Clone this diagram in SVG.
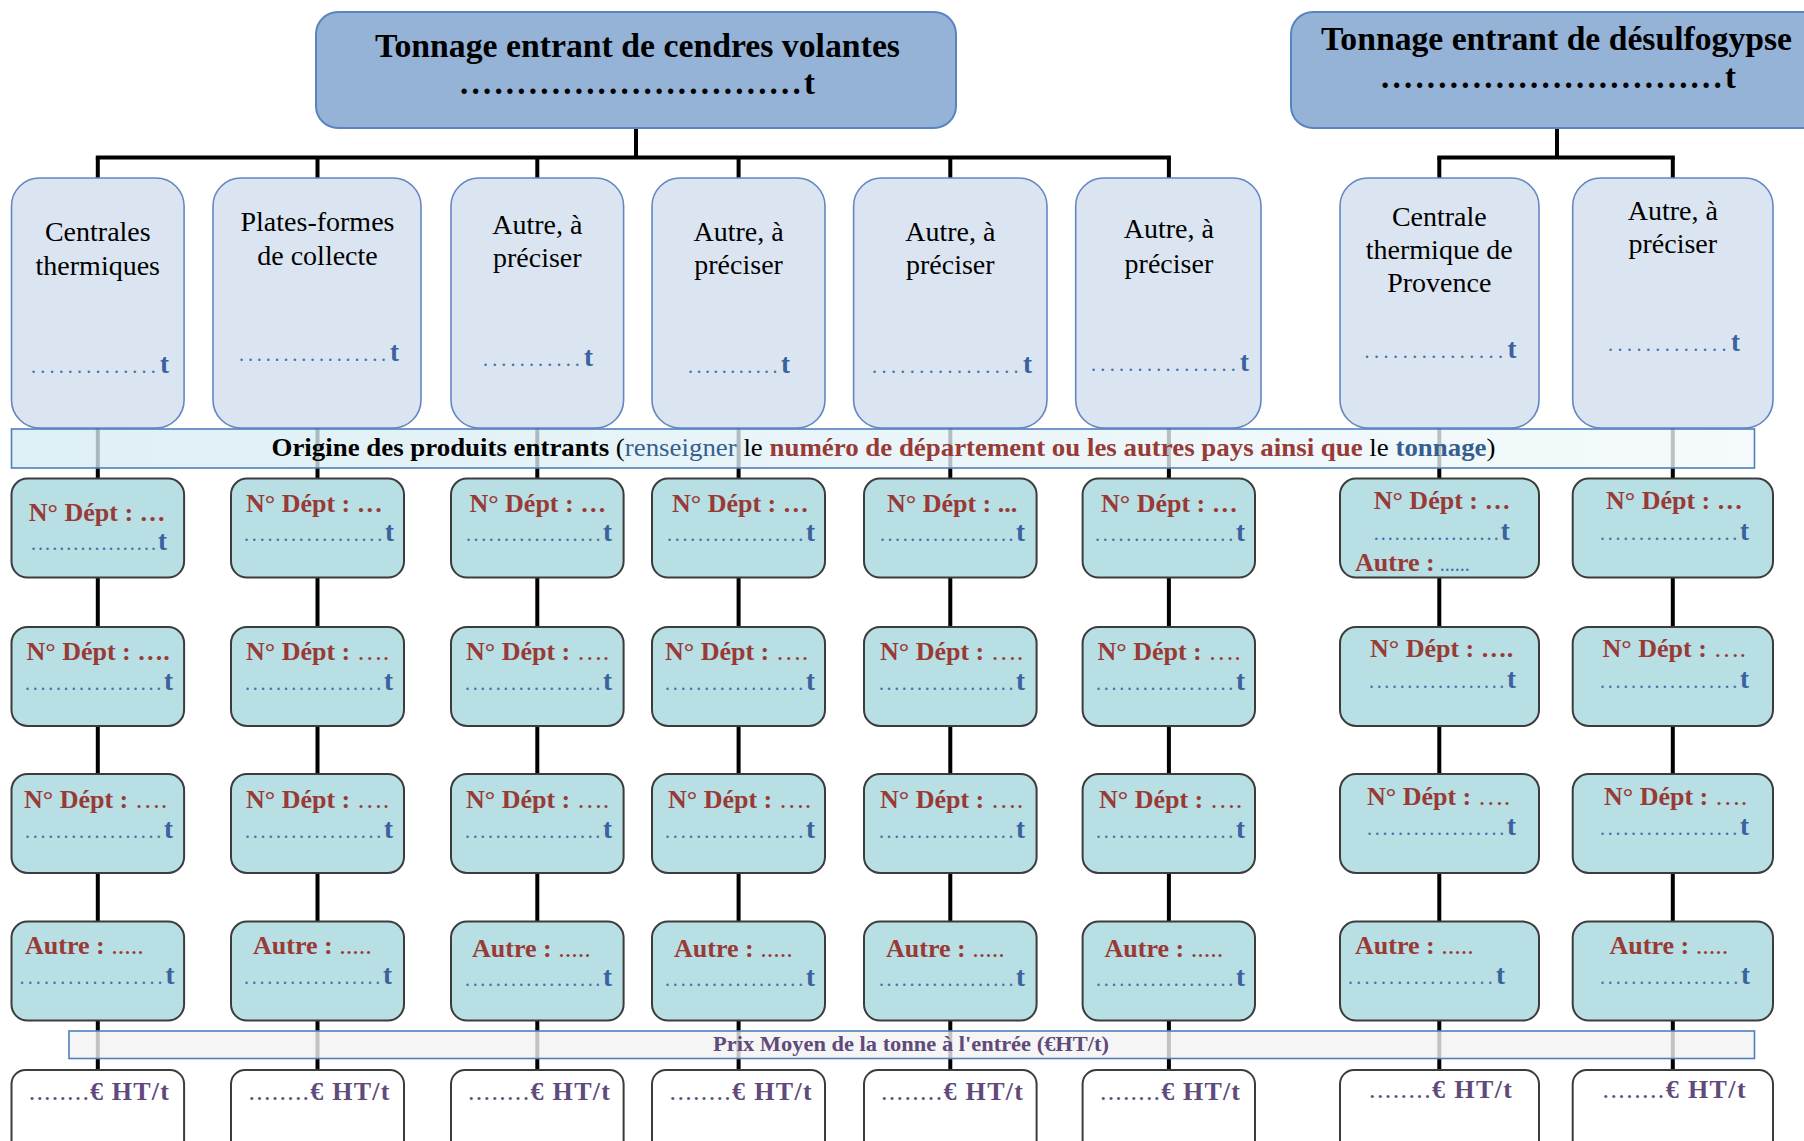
<svg xmlns="http://www.w3.org/2000/svg" width="1804" height="1141" viewBox="0 0 1804 1141" font-family="'Liberation Serif', 'Times New Roman', 'DejaVu Serif', serif">
<style>
  .top{fill:#95b3d7;stroke:#5a84c0;stroke-width:2}
  .src{fill:#dbe5f1;stroke:#6487c0;stroke-width:1.6}
  .dep{fill:#b8dfe3;stroke:#3c3c3c;stroke-width:2}
  .prix{fill:#ffffff;stroke:#3c3c3c;stroke-width:2}
  .band1{fill:url(#bandFill);fill-opacity:0.78;stroke:#4f7fbd;stroke-width:1.6}
  .band2{fill:#f2f2f2;fill-opacity:0.8;stroke:#4f7fbd;stroke-width:1.6}
  .wire{fill:none;stroke:#000;stroke-width:4}
  text, tspan{font-family:'Liberation Serif', 'Times New Roman', 'DejaVu Serif', serif}
  .ttl{font-size:33px;font-weight:bold;fill:#000}
  .lbl{font-size:28px;fill:#000;text-anchor:middle}
  .qty{font-size:20px;fill:#4470b0}
  .u{font-size:27px;font-weight:bold;fill:#3a62a0}
  .dept{font-size:26px;font-weight:bold;fill:#983a36}
  .thin{font-weight:normal}
  .eur{font-size:26px;fill:#604a7b}
  .b{font-weight:bold}
  .blk{fill:#000}
  .blu{fill:#365f91}
  .red{fill:#983a36}
</style>
<defs>
  <linearGradient id="bandFill" x1="0" y1="0" x2="1" y2="0">
    <stop offset="0" stop-color="#d5ebf2"/>
    <stop offset="1" stop-color="#f2f9fb"/>
  </linearGradient>
</defs>

<!-- connectors -->
<g id="connectors" class="wire">
  <path d="M636 128V157.6M1557 128V157.6"/>
  <path d="M97.8 157.6H1168.9M1439.3 157.6H1672.8" stroke-linecap="square"/>
  <path d="M97.8 157.6V178M317.5 157.6V178M537.3 157.6V178M738.6 157.6V178M950.3 157.6V178M1168.9 157.6V178M1439.3 157.6V178M1672.8 157.6V178"/>
  <path d="M97.8 428V1070M317.5 428V1070M537.3 428V1070M738.6 428V1070M950.3 428V1070M1168.9 428V1070M1439.3 428V1070M1672.8 428V1070"/>
</g>

<!-- headers -->
<g id="title-cendres">
  <rect class="top" x="316" y="12" width="640" height="116" rx="22"/>
  <text class="ttl" x="375" y="57" textLength="525" lengthAdjust="spacingAndGlyphs">Tonnage entrant de cendres volantes</text>
  <text class="ttl" x="460" y="94" textLength="355" lengthAdjust="spacing">..............................t</text>
</g>
<g id="title-desulfo">
  <rect class="top" x="1291" y="12" width="560" height="116" rx="22"/>
  <text class="ttl" x="1321" y="50" textLength="471" lengthAdjust="spacingAndGlyphs">Tonnage entrant de désulfogypse</text>
  <text class="ttl" x="1381" y="88" textLength="355" lengthAdjust="spacing">..............................t</text>
</g>

<!-- sources -->
<g id="src-1">
  <rect class="src" x="11.5" y="178" width="172.6" height="250" rx="28"/>
  <text class="lbl" x="97.8" y="240.5">Centrales</text>
  <text class="lbl" x="97.8" y="275">thermiques</text>
  <text class="qty" x="31" y="373" textLength="138" lengthAdjust="spacing">..............<tspan class="u">t</tspan></text>
</g>
<g id="src-2">
  <rect class="src" x="213" y="178" width="208" height="250" rx="28"/>
  <text class="lbl" x="317.5" y="231">Plates-formes</text>
  <text class="lbl" x="317.5" y="264.6">de collecte</text>
  <text class="qty" x="239" y="361" textLength="160" lengthAdjust="spacing">.................<tspan class="u">t</tspan></text>
</g>
<g id="src-3">
  <rect class="src" x="451" y="178" width="172.6" height="250" rx="28"/>
  <text class="lbl" x="537.3" y="233.5">Autre, à</text>
  <text class="lbl" x="537.3" y="267">préciser</text>
  <text class="qty" x="483" y="366" textLength="110" lengthAdjust="spacing">...........<tspan class="u">t</tspan></text>
</g>
<g id="src-4">
  <rect class="src" x="652" y="178" width="173" height="250" rx="28"/>
  <text class="lbl" x="738.6" y="240.5">Autre, à</text>
  <text class="lbl" x="738.6" y="274">préciser</text>
  <text class="qty" x="688" y="373" textLength="102" lengthAdjust="spacing">...........<tspan class="u">t</tspan></text>
</g>
<g id="src-5">
  <rect class="src" x="853.6" y="178" width="193.4" height="250" rx="28"/>
  <text class="lbl" x="950.3" y="240.5">Autre, à</text>
  <text class="lbl" x="950.3" y="274">préciser</text>
  <text class="qty" x="872" y="373" textLength="160" lengthAdjust="spacing">................<tspan class="u">t</tspan></text>
</g>
<g id="src-6">
  <rect class="src" x="1075.7" y="178" width="185.3" height="250" rx="28"/>
  <text class="lbl" x="1168.9" y="238">Autre, à</text>
  <text class="lbl" x="1168.9" y="272.7">préciser</text>
  <text class="qty" x="1091" y="370.5" textLength="158" lengthAdjust="spacing">................<tspan class="u">t</tspan></text>
</g>
<g id="src-7">
  <rect class="src" x="1340" y="178" width="199" height="250" rx="28"/>
  <text class="lbl" x="1439.3" y="225.5">Centrale</text>
  <text class="lbl" x="1439.3" y="259">thermique de</text>
  <text class="lbl" x="1439.3" y="292">Provence</text>
  <text class="qty" x="1364.5" y="358" textLength="152" lengthAdjust="spacing">...............<tspan class="u">t</tspan></text>
</g>
<g id="src-8">
  <rect class="src" x="1572.7" y="178" width="200.3" height="250" rx="28"/>
  <text class="lbl" x="1672.8" y="219.7">Autre, à</text>
  <text class="lbl" x="1672.8" y="253">préciser</text>
  <text class="qty" x="1608" y="351" textLength="132" lengthAdjust="spacing">.............<tspan class="u">t</tspan></text>
</g>

<!-- origin band -->
<g id="band-origine">
  <rect class="band1" x="11.5" y="429" width="1743" height="39"/>
  <text x="271.5" y="456" font-size="26" textLength="1224" lengthAdjust="spacingAndGlyphs"><tspan class="b blk">Origine des produits entrants</tspan><tspan class="blk"> (</tspan><tspan class="blu">renseigner</tspan><tspan class="blk"> le </tspan><tspan class="b red">numéro de département ou les autres pays ainsi que</tspan><tspan class="blk"> le </tspan><tspan class="b blu">tonnage</tspan><tspan class="blk">)</tspan></text>
</g>

<!-- row A -->
<g id="dep-a1"><rect class="dep" x="11.5" y="478.6" width="172.6" height="99" rx="16"/>
  <text class="dept" x="28.8" y="521">N° Dépt : …</text>
  <text class="qty" x="31" y="550" textLength="136" lengthAdjust="spacing">..................<tspan class="u">t</tspan></text></g>
<g id="dep-a2"><rect class="dep" x="231" y="478.6" width="173" height="99" rx="16"/>
  <text class="dept" x="246" y="512">N° Dépt : …</text>
  <text class="qty" x="244" y="541" textLength="150" lengthAdjust="spacing">..................<tspan class="u">t</tspan></text></g>
<g id="dep-a3"><rect class="dep" x="451" y="478.6" width="172.6" height="99" rx="16"/>
  <text class="dept" x="469.4" y="512">N° Dépt : …</text>
  <text class="qty" x="466" y="541" textLength="146" lengthAdjust="spacing">..................<tspan class="u">t</tspan></text></g>
<g id="dep-a4"><rect class="dep" x="652" y="478.6" width="173" height="99" rx="16"/>
  <text class="dept" x="672" y="512">N° Dépt : …</text>
  <text class="qty" x="667" y="541" textLength="148" lengthAdjust="spacing">..................<tspan class="u">t</tspan></text></g>
<g id="dep-a5"><rect class="dep" x="864" y="478.6" width="172.6" height="99" rx="16"/>
  <text class="dept" x="887" y="512">N° Dépt : ...</text>
  <text class="qty" x="880" y="541" textLength="145" lengthAdjust="spacing">..................<tspan class="u">t</tspan></text></g>
<g id="dep-a6"><rect class="dep" x="1082.6" y="478.6" width="172.4" height="99" rx="16"/>
  <text class="dept" x="1101" y="512">N° Dépt : …</text>
  <text class="qty" x="1095" y="541" textLength="150" lengthAdjust="spacing">..................<tspan class="u">t</tspan></text></g>
<g id="dep-a7"><rect class="dep" x="1340" y="478.6" width="199" height="99" rx="16"/>
  <text class="dept" x="1373.7" y="508.5">N° Dépt : …</text>
  <text class="qty" x="1373.7" y="539.6" textLength="136" lengthAdjust="spacing">..................<tspan class="u">t</tspan></text>
  <text class="dept" x="1355" y="570.6">Autre :<tspan class="qty thin" font-size="14"> ......</tspan></text></g>
<g id="dep-a8"><rect class="dep" x="1572.7" y="478.6" width="200.3" height="99" rx="16"/>
  <text class="dept" x="1606" y="508.5">N° Dépt : …</text>
  <text class="qty" x="1600" y="539.6" textLength="149" lengthAdjust="spacing">..................<tspan class="u">t</tspan></text></g>

<!-- row B -->
<g id="dep-b1"><rect class="dep" x="11.5" y="627" width="172.6" height="99" rx="16"/>
  <text class="dept" x="26.5" y="660">N° Dépt : ….</text>
  <text class="qty" x="25" y="690" textLength="148" lengthAdjust="spacing">..................<tspan class="u">t</tspan></text></g>
<g id="dep-b2"><rect class="dep" x="231" y="627" width="173" height="99" rx="16"/>
  <text class="dept" x="246" y="660">N° Dépt : <tspan class="thin">….</tspan></text>
  <text class="qty" x="245" y="690" textLength="148" lengthAdjust="spacing">..................<tspan class="u">t</tspan></text></g>
<g id="dep-b3"><rect class="dep" x="451" y="627" width="172.6" height="99" rx="16"/>
  <text class="dept" x="466" y="660">N° Dépt : <tspan class="thin">….</tspan></text>
  <text class="qty" x="465" y="690" textLength="147" lengthAdjust="spacing">..................<tspan class="u">t</tspan></text></g>
<g id="dep-b4"><rect class="dep" x="652" y="627" width="173" height="99" rx="16"/>
  <text class="dept" x="665" y="660">N° Dépt : <tspan class="thin">….</tspan></text>
  <text class="qty" x="665" y="690" textLength="150" lengthAdjust="spacing">..................<tspan class="u">t</tspan></text></g>
<g id="dep-b5"><rect class="dep" x="864" y="627" width="172.6" height="99" rx="16"/>
  <text class="dept" x="880" y="660">N° Dépt : <tspan class="thin">….</tspan></text>
  <text class="qty" x="879" y="690" textLength="146" lengthAdjust="spacing">..................<tspan class="u">t</tspan></text></g>
<g id="dep-b6"><rect class="dep" x="1082.6" y="627" width="172.4" height="99" rx="16"/>
  <text class="dept" x="1097.5" y="660">N° Dépt : <tspan class="thin">….</tspan></text>
  <text class="qty" x="1096" y="690" textLength="149" lengthAdjust="spacing">..................<tspan class="u">t</tspan></text></g>
<g id="dep-b7"><rect class="dep" x="1340" y="627" width="199" height="99" rx="16"/>
  <text class="dept" x="1370" y="657">N° Dépt : ….</text>
  <text class="qty" x="1369" y="688" textLength="147" lengthAdjust="spacing">..................<tspan class="u">t</tspan></text></g>
<g id="dep-b8"><rect class="dep" x="1572.7" y="627" width="200.3" height="99" rx="16"/>
  <text class="dept" x="1602.6" y="657">N° Dépt : <tspan class="thin">….</tspan></text>
  <text class="qty" x="1600" y="688" textLength="149" lengthAdjust="spacing">..................<tspan class="u">t</tspan></text></g>

<!-- row C -->
<g id="dep-c1"><rect class="dep" x="11.5" y="774" width="172.6" height="99" rx="16"/>
  <text class="dept" x="24" y="807.6">N° Dépt : <tspan class="thin">….</tspan></text>
  <text class="qty" x="25" y="837.6" textLength="148" lengthAdjust="spacing">..................<tspan class="u">t</tspan></text></g>
<g id="dep-c2"><rect class="dep" x="231" y="774" width="173" height="99" rx="16"/>
  <text class="dept" x="246" y="807.6">N° Dépt : <tspan class="thin">….</tspan></text>
  <text class="qty" x="245" y="837.6" textLength="148" lengthAdjust="spacing">..................<tspan class="u">t</tspan></text></g>
<g id="dep-c3"><rect class="dep" x="451" y="774" width="172.6" height="99" rx="16"/>
  <text class="dept" x="466" y="807.6">N° Dépt : <tspan class="thin">….</tspan></text>
  <text class="qty" x="465" y="837.6" textLength="147" lengthAdjust="spacing">..................<tspan class="u">t</tspan></text></g>
<g id="dep-c4"><rect class="dep" x="652" y="774" width="173" height="99" rx="16"/>
  <text class="dept" x="668" y="807.6">N° Dépt : <tspan class="thin">….</tspan></text>
  <text class="qty" x="665" y="837.6" textLength="150" lengthAdjust="spacing">..................<tspan class="u">t</tspan></text></g>
<g id="dep-c5"><rect class="dep" x="864" y="774" width="172.6" height="99" rx="16"/>
  <text class="dept" x="880" y="807.6">N° Dépt : <tspan class="thin">….</tspan></text>
  <text class="qty" x="879" y="837.6" textLength="146" lengthAdjust="spacing">..................<tspan class="u">t</tspan></text></g>
<g id="dep-c6"><rect class="dep" x="1082.6" y="774" width="172.4" height="99" rx="16"/>
  <text class="dept" x="1099" y="807.6">N° Dépt : <tspan class="thin">….</tspan></text>
  <text class="qty" x="1096" y="837.6" textLength="149" lengthAdjust="spacing">..................<tspan class="u">t</tspan></text></g>
<g id="dep-c7"><rect class="dep" x="1340" y="774" width="199" height="99" rx="16"/>
  <text class="dept" x="1367" y="805">N° Dépt : <tspan class="thin">….</tspan></text>
  <text class="qty" x="1367" y="835" textLength="149" lengthAdjust="spacing">..................<tspan class="u">t</tspan></text></g>
<g id="dep-c8"><rect class="dep" x="1572.7" y="774" width="200.3" height="99" rx="16"/>
  <text class="dept" x="1604" y="805">N° Dépt : <tspan class="thin">….</tspan></text>
  <text class="qty" x="1600" y="835" textLength="149" lengthAdjust="spacing">..................<tspan class="u">t</tspan></text></g>

<!-- row D -->
<g id="dep-d1"><rect class="dep" x="11.5" y="921.6" width="172.6" height="99" rx="16"/>
  <text class="dept" x="25" y="954">Autre : <tspan class="thin">.....</tspan></text>
  <text class="qty" x="19.6" y="983.7" textLength="155" lengthAdjust="spacing">..................<tspan class="u">t</tspan></text></g>
<g id="dep-d2"><rect class="dep" x="231" y="921.6" width="173" height="99" rx="16"/>
  <text class="dept" x="253" y="954">Autre : <tspan class="thin">.....</tspan></text>
  <text class="qty" x="244" y="983.7" textLength="148" lengthAdjust="spacing">..................<tspan class="u">t</tspan></text></g>
<g id="dep-d3"><rect class="dep" x="451" y="921.6" width="172.6" height="99" rx="16"/>
  <text class="dept" x="472" y="957">Autre : <tspan class="thin">.....</tspan></text>
  <text class="qty" x="465" y="986" textLength="147" lengthAdjust="spacing">..................<tspan class="u">t</tspan></text></g>
<g id="dep-d4"><rect class="dep" x="652" y="921.6" width="173" height="99" rx="16"/>
  <text class="dept" x="674" y="957">Autre : <tspan class="thin">.....</tspan></text>
  <text class="qty" x="665" y="986" textLength="150" lengthAdjust="spacing">..................<tspan class="u">t</tspan></text></g>
<g id="dep-d5"><rect class="dep" x="864" y="921.6" width="172.6" height="99" rx="16"/>
  <text class="dept" x="886" y="957">Autre : <tspan class="thin">.....</tspan></text>
  <text class="qty" x="879" y="986" textLength="146" lengthAdjust="spacing">..................<tspan class="u">t</tspan></text></g>
<g id="dep-d6"><rect class="dep" x="1082.6" y="921.6" width="172.4" height="99" rx="16"/>
  <text class="dept" x="1104.5" y="957">Autre : <tspan class="thin">.....</tspan></text>
  <text class="qty" x="1096" y="986" textLength="149" lengthAdjust="spacing">..................<tspan class="u">t</tspan></text></g>
<g id="dep-d7"><rect class="dep" x="1340" y="921.6" width="199" height="99" rx="16"/>
  <text class="dept" x="1355" y="954">Autre : <tspan class="thin">.....</tspan></text>
  <text class="qty" x="1348" y="983.7" textLength="157" lengthAdjust="spacing">..................<tspan class="u">t</tspan></text></g>
<g id="dep-d8"><rect class="dep" x="1572.7" y="921.6" width="200.3" height="99" rx="16"/>
  <text class="dept" x="1609.5" y="954">Autre : <tspan class="thin">.....</tspan></text>
  <text class="qty" x="1600" y="983.7" textLength="150" lengthAdjust="spacing">..................<tspan class="u">t</tspan></text></g>

<!-- price band -->
<g id="band-prix">
  <rect class="band2" x="69" y="1031" width="1685.5" height="27.5"/>
  <text x="713" y="1051" font-size="21" font-weight="bold" fill="#604a7b" textLength="396" lengthAdjust="spacingAndGlyphs">Prix Moyen de la tonne à l'entrée (€HT/t)</text>
</g>

<!-- price boxes -->
<g id="prix-1"><rect class="prix" x="11.5" y="1070" width="172.6" height="95" rx="14"/>
  <text class="eur" x="28.8" y="1100" textLength="140" lengthAdjust="spacing">........<tspan class="b">€ HT/t</tspan></text></g>
<g id="prix-2"><rect class="prix" x="231" y="1070" width="173" height="95" rx="14"/>
  <text class="eur" x="248.5" y="1100" textLength="141" lengthAdjust="spacing">........<tspan class="b">€ HT/t</tspan></text></g>
<g id="prix-3"><rect class="prix" x="451" y="1070" width="172.6" height="95" rx="14"/>
  <text class="eur" x="468" y="1100" textLength="142" lengthAdjust="spacing">........<tspan class="b">€ HT/t</tspan></text></g>
<g id="prix-4"><rect class="prix" x="652" y="1070" width="173" height="95" rx="14"/>
  <text class="eur" x="669.6" y="1100" textLength="142" lengthAdjust="spacing">........<tspan class="b">€ HT/t</tspan></text></g>
<g id="prix-5"><rect class="prix" x="864" y="1070" width="172.6" height="95" rx="14"/>
  <text class="eur" x="881" y="1100" textLength="142" lengthAdjust="spacing">........<tspan class="b">€ HT/t</tspan></text></g>
<g id="prix-6"><rect class="prix" x="1082.6" y="1070" width="172.4" height="95" rx="14"/>
  <text class="eur" x="1100" y="1100" textLength="140" lengthAdjust="spacing">........<tspan class="b">€ HT/t</tspan></text></g>
<g id="prix-7"><rect class="prix" x="1340" y="1070" width="199" height="95" rx="14"/>
  <text class="eur" x="1369" y="1097.6" textLength="143" lengthAdjust="spacing">........<tspan class="b">€ HT/t</tspan></text></g>
<g id="prix-8"><rect class="prix" x="1572.7" y="1070" width="200.3" height="95" rx="14"/>
  <text class="eur" x="1602.6" y="1097.6" textLength="143" lengthAdjust="spacing">........<tspan class="b">€ HT/t</tspan></text></g>
</svg>
